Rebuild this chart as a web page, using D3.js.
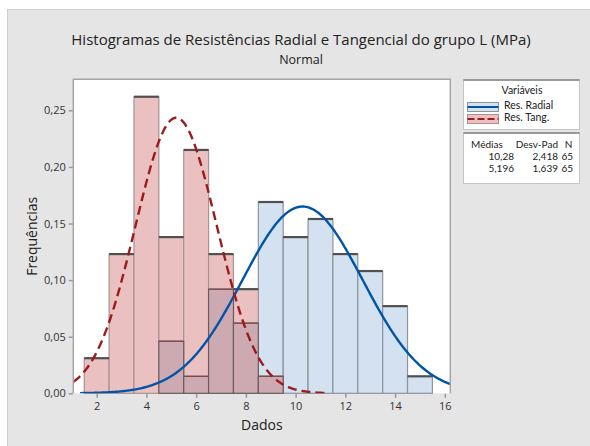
<!DOCTYPE html>
<html>
<head>
<meta charset="utf-8">
<script src="https://cdn.jsdelivr.net/npm/d3@7"></script>
<style>
body{margin:0;background:#fff}
svg{display:block;font-family:"Open Sans",sans-serif}
</style>
</head>
<body>
<svg id="chart" width="590" height="446"></svg>
<script>
// bin centres (width 1) and relative frequencies
const centers=[2,3,4,5,6,7,8,9,10,11,12,13,14,15];
const radial=[0,0,0,0.046,0.015,0.092,0.062,0.169,0.138,0.154,0.123,0.108,0.077,0.015];
const tang=[0.031,0.123,0.262,0.138,0.215,0.123,0.092,0.015,0,0,0,0,0,0];
const seriesNames=["Res. Radial","Res. Tang."];
const means=[10.28,5.196];
const sds=[2.418,1.639];
const counts=[65,65];
const xTicks=[2,4,6,8,10,12,14,16];
const yTicks=[0,0.05,0.10,0.15,0.20,0.25];

const loc=d3.formatLocale({decimal:",",thousands:".",grouping:[3],currency:["R$",""]});
const svg=d3.select("#chart");
const plot={l:73.3,r:450.3,t:79.3,b:393.3};

const x=d3.scaleLinear().domain([1.06,16.22]).range([plot.l,plot.r]);
const y=d3.scaleLinear().domain([0,0.2774]).range([plot.b,plot.t]);

// panel
svg.append("rect").attr("x",7.5).attr("y",9.5).attr("width",590).attr("height",440)
	.style("fill","#e5e5e5").style("stroke","#cdcdcd");
svg.append("rect").attr("x",plot.l).attr("y",plot.t).attr("width",plot.r-plot.l).attr("height",plot.b-plot.t)
	.style("fill","#fff");

// title
svg.append("text").attr("x",301).attr("y",45).attr("text-anchor","middle")
	.style("font-size","15px").style("fill","#222")
	.text("Histogramas de Resistências Radial e Tangencial do grupo L (MPa)");
svg.append("text").attr("x",301).attr("y",64).attr("text-anchor","middle")
	.style("font-size","12.5px").style("fill","#222").text("Normal");

const bins=centers.map(function(c,i){return {c:c,r:radial[i],t:tang[i]};});
const bars=svg.append("g");
// fills
bars.selectAll("rect.rf").data(bins.filter(function(d){return d.r>0;})).enter().append("rect")
	.attr("x",function(d){return x(d.c-0.5);}).attr("width",function(d){return x(d.c+0.5)-x(d.c-0.5);})
	.attr("y",function(d){return y(d.r);}).attr("height",function(d){return y(0)-y(d.r);})
	.style("fill","#d3e1f0").style("stroke","#8c949c").style("stroke-width",1.2);
bars.selectAll("rect.tf").data(bins.filter(function(d){return d.t>0;})).enter().append("rect")
	.attr("x",function(d){return x(d.c-0.5);}).attr("width",function(d){return x(d.c+0.5)-x(d.c-0.5);})
	.attr("y",function(d){return y(d.t);}).attr("height",function(d){return y(0)-y(d.t);})
	.style("fill","#ebc0c0").style("stroke","#a89292").style("stroke-width",1.2);
const both=bins.filter(function(d){return d.r>0&&d.t>0;});
bars.selectAll("rect.of").data(both).enter().append("rect")
	.attr("x",function(d){return x(d.c-0.5);}).attr("width",function(d){return x(d.c+0.5)-x(d.c-0.5);})
	.attr("y",function(d){return y(Math.min(d.r,d.t));}).attr("height",function(d){return y(0)-y(Math.min(d.r,d.t));})
	.style("fill","#cdaab2").style("stroke","#6e5a5e").style("stroke-width",1.2);
// top edges
bars.selectAll("line.low").data(both).enter().append("line")
	.attr("x1",function(d){return x(d.c-0.5);}).attr("x2",function(d){return x(d.c+0.5);})
	.attr("y1",function(d){return y(Math.min(d.r,d.t));}).attr("y2",function(d){return y(Math.min(d.r,d.t));})
	.style("stroke","#7a4a50").style("stroke-width",1.2);
bars.selectAll("line.top").data(bins.filter(function(d){return d.r>0||d.t>0;})).enter().append("line")
	.attr("x1",function(d){return x(d.c-0.5);}).attr("x2",function(d){return x(d.c+0.5);})
	.attr("y1",function(d){return y(Math.max(d.r,d.t));}).attr("y2",function(d){return y(Math.max(d.r,d.t));})
	.style("stroke","#505050").style("stroke-width",2.2);

// fitted normal curves
svg.append("clipPath").attr("id","clip").append("rect")
	.attr("x",plot.l).attr("y",plot.t-2).attr("width",plot.r-plot.l).attr("height",plot.b-plot.t+2);
const line=d3.line().x(function(d){return x(d[0]);}).y(function(d){return y(d[1]);});
function curve(i){
	const lo=Math.max(x.domain()[0],means[i]-3.7*sds[i]),hi=Math.min(x.domain()[1],means[i]+3.7*sds[i]);
	return d3.range(lo,hi+0.001,(hi-lo)/300).map(function(v){
		return [v,Math.exp(-0.5*Math.pow((v-means[i])/sds[i],2))/(sds[i]*Math.sqrt(2*Math.PI))];
	});
}
svg.append("path").attr("clip-path","url(#clip)").attr("d",line(curve(0)))
	.style("fill","none").style("stroke","#0055a8").style("stroke-width",2.4);
svg.append("path").attr("clip-path","url(#clip)").attr("d",line(curve(1)))
	.style("fill","none").style("stroke","#9b1c1c").style("stroke-width",2.4).style("stroke-dasharray","9,5");

// frame
svg.append("path").attr("d","M"+plot.l+","+plot.b+"V"+plot.t+"H"+plot.r+"V"+plot.b)
	.style("fill","none").style("stroke","#a6a6a6").style("stroke-width",1.5);

// axes
const xAxis=svg.append("g").attr("transform","translate(0,"+(plot.b+0.5)+")")
	.call(d3.axisBottom(x).tickValues(xTicks).tickSize(4).tickPadding(4));
const yAxis=svg.append("g").attr("transform","translate("+(plot.l-0.5)+",0)")
	.call(d3.axisLeft(y).tickValues(yTicks).tickSize(4).tickPadding(3).tickFormat(loc.format(".2f")));
[xAxis,yAxis].forEach(function(a){
	a.select(".domain").remove();
	a.selectAll("line").style("stroke","#999").style("stroke-width",1.5);
	a.selectAll("text").style("font-family","Open Sans").style("font-size","11px").style("fill","#333");
});
svg.append("text").attr("x",(plot.l+plot.r)/2).attr("y",430).attr("text-anchor","middle")
	.style("font-size","14px").style("fill","#222").text("Dados");
svg.append("text").attr("transform","translate(37,"+((plot.t+plot.b)/2)+") rotate(-90)").attr("text-anchor","middle")
	.style("font-size","14px").style("fill","#222").text("Frequências");

// legend
const lg=svg.append("g").style("font-family","Lato").style("font-size","10.5px").style("fill","#222");
lg.append("rect").attr("x",463.5).attr("y",79.5).attr("width",116).attr("height",50)
	.style("fill","#fff").style("stroke","#c4c4c4");
lg.append("line").attr("x1",463.5).attr("x2",579.5).attr("y1",80).attr("y2",80).style("stroke","#9a9a9a").style("stroke-width",2);
lg.append("text").attr("x",522).attr("y",94).attr("text-anchor","middle").text("Variáveis");
const sym=[{fill:"#d3e1f0",edge:"#8c949c",stroke:"#0055a8",dash:null},{fill:"#ebc0c0",edge:"#a89292",stroke:"#9b1c1c",dash:"7,3"}];
seriesNames.forEach(function(n,i){
	const yy=102.5+i*12;
	lg.append("rect").attr("x",467.5).attr("y",yy).attr("width",31).attr("height",9)
		.style("fill",sym[i].fill).style("stroke",sym[i].edge);
	lg.append("line").attr("x1",467.5).attr("x2",498.5).attr("y1",yy+4.5).attr("y2",yy+4.5)
		.style("stroke",sym[i].stroke).style("stroke-width",2).style("stroke-dasharray",sym[i].dash);
	lg.append("text").attr("x",504).attr("y",yy+6.5).text(n);
});
lg.append("rect").attr("x",463.5).attr("y",132.5).attr("width",116).attr("height",51)
	.style("fill","#fff").style("stroke","#c4c4c4");
lg.append("line").attr("x1",463.5).attr("x2",579.5).attr("y1",133).attr("y2",133).style("stroke","#9a9a9a").style("stroke-width",2);
const st=lg.append("g").style("font-size","10px");
st.append("text").attr("x",471).attr("y",147.5).text("Médias");
st.append("text").attr("x",558).attr("y",147.5).attr("text-anchor","end").text("Desv-Pad");
st.append("text").attr("x",572.5).attr("y",147.5).attr("text-anchor","end").text("N");
const f4=loc.format(".4r");
means.forEach(function(m,i){
	const yy=159.5+i*12;
	st.append("text").attr("x",514).attr("y",yy).attr("text-anchor","end").text(f4(m));
	st.append("text").attr("x",558).attr("y",yy).attr("text-anchor","end").text(f4(sds[i]));
	st.append("text").attr("x",573).attr("y",yy).attr("text-anchor","end").text(counts[i]);
});
</script>
</body>
</html>
